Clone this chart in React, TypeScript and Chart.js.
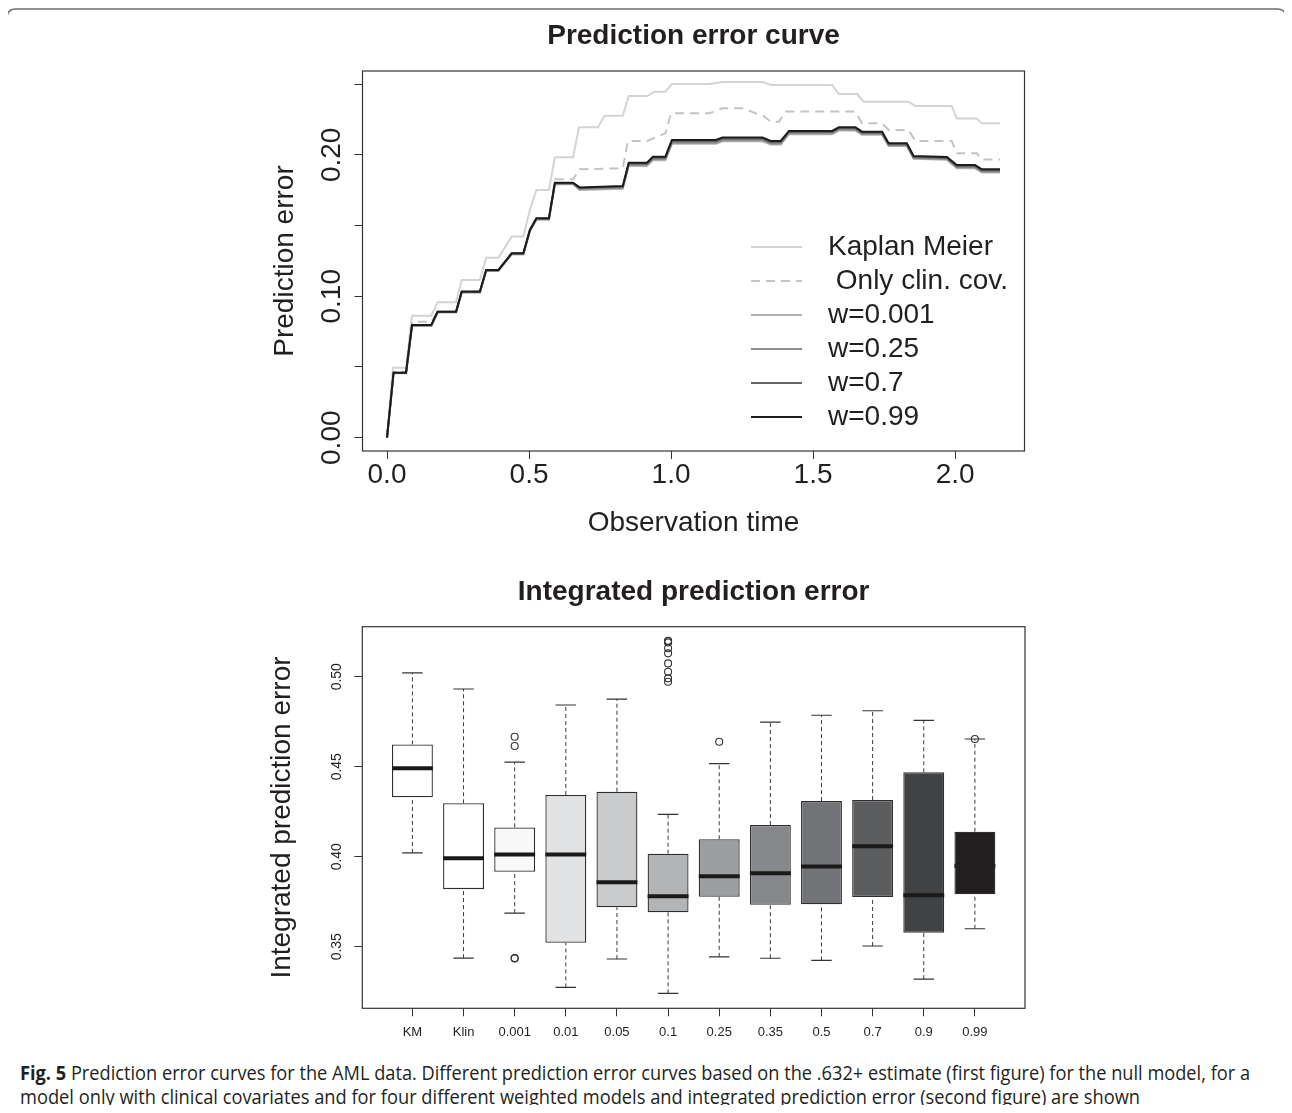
import React, { useEffect, useLayoutEffect, useRef } from 'react';
import { Chart, registerables } from 'chart.js';

Chart.register(...registerables);

const FONT = '"Liberation Sans", Arial, Helvetica, sans-serif';
const INK = '#231f20';

// ---------- Top chart: prediction error curves ----------
const seriesLabels = ['Kaplan Meier', ' Only clin. cov.', 'w=0.001', 'w=0.25', 'w=0.7', 'w=0.99'];

const kmTimes = [0, 0.021, 0.067, 0.088, 0.156, 0.178, 0.243, 0.263, 0.327, 0.349, 0.392, 0.439, 0.480, 0.503, 0.526, 0.570, 0.591, 0.655, 0.676, 0.743, 0.766, 0.830, 0.851, 0.915, 0.942, 0.980, 1.003, 1.135, 1.181, 1.322, 1.351, 1.567, 1.591, 1.655, 1.678, 1.836, 1.860, 1.988, 2.006, 2.076, 2.094, 2.158];
const kmValues = [0, 0.0495, 0.0495, 0.0863, 0.0863, 0.0957, 0.0957, 0.1115, 0.1115, 0.1273, 0.1273, 0.1422, 0.1422, 0.1610, 0.1752, 0.1752, 0.1983, 0.1983, 0.2195, 0.2195, 0.2277, 0.2277, 0.2416, 0.2416, 0.2447, 0.2447, 0.2501, 0.2501, 0.2516, 0.2516, 0.2494, 0.2494, 0.2430, 0.2430, 0.2376, 0.2376, 0.2346, 0.2346, 0.2258, 0.2258, 0.2223, 0.2223];

const clinTimes = [0, 0.023, 0.067, 0.088, 0.156, 0.178, 0.243, 0.263, 0.327, 0.349, 0.392, 0.439, 0.480, 0.503, 0.526, 0.570, 0.591, 0.655, 0.678, 0.830, 0.848, 0.915, 0.980, 1.000, 1.135, 1.181, 1.251, 1.298, 1.322, 1.351, 1.380, 1.403, 1.649, 1.672, 1.743, 1.766, 1.836, 1.860, 1.988, 2.006, 2.076, 2.094, 2.158];
const clinValues = [0, 0.0467, 0.0467, 0.0820, 0.0820, 0.0891, 0.0891, 0.1033, 0.1033, 0.1186, 0.1186, 0.1304, 0.1304, 0.1469, 0.1551, 0.1551, 0.1827, 0.1827, 0.1898, 0.1905, 0.2098, 0.2098, 0.2152, 0.2294, 0.2294, 0.2329, 0.2329, 0.2294, 0.2280, 0.2235, 0.2235, 0.2306, 0.2306, 0.2223, 0.2223, 0.2176, 0.2176, 0.2098, 0.2098, 0.2011, 0.2011, 0.1968, 0.1968];

const wTimes = [0, 0.023, 0.067, 0.088, 0.156, 0.178, 0.243, 0.263, 0.327, 0.349, 0.392, 0.439, 0.480, 0.503, 0.526, 0.570, 0.591, 0.655, 0.678, 0.830, 0.851, 0.915, 0.936, 0.980, 1.003, 1.158, 1.181, 1.322, 1.351, 1.386, 1.415, 1.567, 1.591, 1.649, 1.672, 1.743, 1.766, 1.830, 1.854, 1.971, 2.006, 2.070, 2.094, 2.158];
const w001Values = [0, 0.0456, 0.0456, 0.0791, 0.0791, 0.0886, 0.0886, 0.1027, 0.1027, 0.1179, 0.1179, 0.1296, 0.1296, 0.1460, 0.1542, 0.1542, 0.1792, 0.1792, 0.1752, 0.1760, 0.1922, 0.1922, 0.1962, 0.1962, 0.2078, 0.2078, 0.2096, 0.2096, 0.2074, 0.2074, 0.2146, 0.2146, 0.2172, 0.2172, 0.2142, 0.2142, 0.2062, 0.2062, 0.1972, 0.1965, 0.1906, 0.1906, 0.1876, 0.1876];
const w025Values = [0, 0.0458, 0.0458, 0.0793, 0.0793, 0.0888, 0.0888, 0.1029, 0.1029, 0.1181, 0.1181, 0.1299, 0.1299, 0.1464, 0.1546, 0.1546, 0.1796, 0.1796, 0.1758, 0.1767, 0.1930, 0.1930, 0.1970, 0.1970, 0.2086, 0.2086, 0.2104, 0.2104, 0.2081, 0.2081, 0.2153, 0.2153, 0.2180, 0.2180, 0.2149, 0.2149, 0.2068, 0.2068, 0.1978, 0.1971, 0.1912, 0.1912, 0.1882, 0.1882];
const w07Values = [0, 0.0460, 0.0460, 0.0795, 0.0795, 0.0890, 0.0890, 0.1031, 0.1031, 0.1184, 0.1184, 0.1302, 0.1302, 0.1467, 0.1549, 0.1549, 0.1800, 0.1800, 0.1765, 0.1774, 0.1938, 0.1938, 0.1979, 0.1979, 0.2097, 0.2097, 0.2114, 0.2114, 0.2090, 0.2090, 0.2162, 0.2162, 0.2188, 0.2188, 0.2157, 0.2157, 0.2075, 0.2075, 0.1985, 0.1978, 0.1920, 0.1920, 0.1890, 0.1890];
const w099Values = [0, 0.0460, 0.0460, 0.0797, 0.0797, 0.0891, 0.0891, 0.1033, 0.1033, 0.1186, 0.1186, 0.1304, 0.1304, 0.1469, 0.1551, 0.1551, 0.1803, 0.1803, 0.1770, 0.1780, 0.1945, 0.1945, 0.1987, 0.1987, 0.2105, 0.2105, 0.2122, 0.2122, 0.2098, 0.2098, 0.2169, 0.2169, 0.2195, 0.2195, 0.2164, 0.2164, 0.2082, 0.2082, 0.1992, 0.1985, 0.1928, 0.1928, 0.1898, 0.1898];

const xTickValues = [0, 0.5, 1, 1.5, 2];
const xTickLabels = ['0.0', '0.5', '1.0', '1.5', '2.0'];
const yTickValues = [0, 0.05, 0.1, 0.15, 0.2, 0.25];
const yTickLabels = ['0.00', '', '0.10', '', '0.20', ''];

// ---------- Bottom chart: integrated prediction error ----------
const boxCategories = ['KM', 'Klin', '0.001', '0.01', '0.05', '0.1', '0.25', '0.35', '0.5', '0.7', '0.9', '0.99'];
const whiskerLow = [0.4021, 0.3437, 0.3687, 0.3274, 0.3432, 0.3241, 0.3444, 0.3436, 0.3424, 0.3504, 0.3320, 0.3600];
const quartile1 = [0.4330, 0.3820, 0.3917, 0.3522, 0.3719, 0.3691, 0.3778, 0.3733, 0.3736, 0.3776, 0.3578, 0.3791];
const medians = [0.4491, 0.3991, 0.4013, 0.4013, 0.3858, 0.3780, 0.3891, 0.3908, 0.3946, 0.4058, 0.3786, 0.3950];
const quartile3 = [0.4624, 0.4297, 0.4163, 0.4343, 0.4361, 0.4017, 0.4097, 0.4176, 0.4309, 0.4315, 0.4469, 0.4139];
const whiskerHigh = [0.5022, 0.4932, 0.4526, 0.4843, 0.4876, 0.4235, 0.4517, 0.4748, 0.4786, 0.4811, 0.4758, 0.4654];
const outliers: number[][] = [
  [],
  [],
  [0.4667, 0.4615, 0.3437, 0.3435],
  [],
  [],
  [0.5200, 0.5197, 0.5190, 0.5158, 0.5130, 0.5074, 0.5028, 0.4991, 0.4972],
  [0.4639],
  [],
  [],
  [],
  [],
  [0.4654],
];
const boxFills = ['#ffffff', '#ffffff', '#f9f9f9', '#e1e2e3', '#c9cacc', '#b3b4b6', '#9d9ea0', '#87888b', '#727376', '#5c5d5f', '#414244', '#231f20'];
const medianColors = ['#1a1a1a', '#1a1a1a', '#1a1a1a', '#1a1a1a', '#1a1a1a', '#1a1a1a', '#1a1a1a', '#1a1a1a', '#1a1a1a', '#1a1a1a', '#1a1a1a', '#231f20'];
const boxYTicks = [0.35, 0.40, 0.45, 0.50];
const boxYLabels = ['0.35', '0.40', '0.45', '0.50'];

const BOX_HALF = 0.4;
const CAP_HALF = 0.2;

function toPoints(xs: number[], ys: number[]) {
  return xs.map((x, i) => ({ x, y: ys[i] }));
}

type RPlotOpts = {
  title: string;
  titleSize: number;
  titleGap: number;
  yTicks: number[];
  yLabels: string[];
  yLabelSize: number;
  yLabelGap: number;
  legend?: { top: number; step: number; lineStart: number; lineEnd: number; textStart: number; size: number };
};

function makeRPlot(o: RPlotOpts) {
  return {
    id: 'rPlot',
    afterDraw(chart: any) {
      const { ctx, chartArea: a, scales } = chart;
      ctx.save();
      ctx.strokeStyle = '#333';
      ctx.lineWidth = 1.2;
      ctx.setLineDash([]);
      ctx.strokeRect(a.left, a.top, a.right - a.left, a.bottom - a.top);

      ctx.fillStyle = INK;
      ctx.font = `bold ${o.titleSize}px ${FONT}`;
      ctx.textAlign = 'center';
      ctx.textBaseline = 'middle';
      ctx.fillText(o.title, (a.left + a.right) / 2, a.top - o.titleGap);

      ctx.font = `${o.yLabelSize}px ${FONT}`;
      o.yTicks.forEach((v, i) => {
        const label = o.yLabels[i];
        if (!label) return;
        const y = scales.y.getPixelForValue(v);
        ctx.save();
        ctx.translate(a.left - o.yLabelGap, y);
        ctx.rotate(-Math.PI / 2);
        ctx.fillText(label, 0, 0);
        ctx.restore();
      });

      if (o.legend) {
        const L = o.legend;
        chart.data.datasets.forEach((ds: any, i: number) => {
          const y = a.top + L.top + i * L.step;
          ctx.strokeStyle = ds.borderColor;
          ctx.lineWidth = ds.borderWidth;
          ctx.setLineDash(ds.borderDash || []);
          ctx.beginPath();
          ctx.moveTo(a.left + L.lineStart, y);
          ctx.lineTo(a.left + L.lineEnd, y);
          ctx.stroke();
          ctx.setLineDash([]);
          ctx.font = `${L.size}px ${FONT}`;
          ctx.textAlign = 'left';
          ctx.textBaseline = 'middle';
          ctx.fillStyle = INK;
          ctx.fillText(ds.label, a.left + L.textStart, y);
        });
      }
      ctx.restore();
    },
  };
}

function lineDs(label: string, data: any[], color: string, order: number, dash?: number[]) {
  return {
    label,
    data,
    borderColor: color,
    borderWidth: 2,
    borderDash: dash,
    pointRadius: 0,
    tension: 0,
    fill: false,
    order,
  };
}

function topConfig(): any {
  return {
    type: 'line',
    data: {
      datasets: [
        lineDs(seriesLabels[0], toPoints(kmTimes, kmValues), '#d4d4d4', 6),
        lineDs(seriesLabels[1], toPoints(clinTimes, clinValues), '#c4c4c4', 5, [9, 6]),
        lineDs(seriesLabels[2], toPoints(wTimes, w001Values), '#b2b2b2', 4),
        lineDs(seriesLabels[3], toPoints(wTimes, w025Values), '#8e8e8e', 3),
        lineDs(seriesLabels[4], toPoints(wTimes, w07Values), '#666666', 2),
        lineDs(seriesLabels[5], toPoints(wTimes, w099Values), '#1c1c1c', 1),
      ],
    },
    options: {
      animation: false,
      responsive: false,
      maintainAspectRatio: false,
      events: [],
      layout: { padding: { left: 0, top: 51, right: 25.5, bottom: 0 } },
      plugins: { legend: { display: false }, tooltip: { enabled: false }, title: { display: false } },
      scales: {
        x: {
          type: 'linear',
          min: -0.0863,
          max: 2.2443,
          offset: false,
          afterBuildTicks: (s: any) => { s.ticks = xTickValues.map((v) => ({ value: v })); },
          afterFit: (s: any) => { s.height = 109; },
          border: { display: false },
          grid: { display: true, drawOnChartArea: false, drawTicks: true, tickLength: 8, color: '#333', lineWidth: 1, offset: false },
          ticks: {
            autoSkip: false,
            maxRotation: 0,
            minRotation: 0,
            padding: -1,
            color: INK,
            font: { family: FONT, size: 28 },
            callback: (_v: any, i: number) => xTickLabels[i],
          },
          title: { display: true, text: 'Observation time', color: INK, font: { family: FONT, size: 28 }, padding: { top: 0, bottom: 20 } },
        },
        y: {
          type: 'linear',
          min: -0.0094,
          max: 0.2593,
          afterBuildTicks: (s: any) => { s.ticks = yTickValues.map((v) => ({ value: v })); },
          afterFit: (s: any) => { s.width = 112.5; },
          border: { display: false },
          grid: { display: true, drawOnChartArea: false, drawTicks: true, tickLength: 8, color: '#333', lineWidth: 1 },
          ticks: { display: false },
          title: { display: true, text: 'Prediction error', color: INK, font: { family: FONT, size: 28 }, padding: { top: 18, bottom: 0 } },
        },
      },
    },
    plugins: [
      makeRPlot({
        title: 'Prediction error curve',
        titleSize: 28,
        titleGap: 35,
        yTicks: yTickValues,
        yLabels: yTickLabels,
        yLabelSize: 28,
        yLabelGap: 30.5,
        legend: { top: 176, step: 34, lineStart: 388.5, lineEnd: 439.5, textStart: 465.5, size: 28 },
      }),
    ],
  };
}

function bottomConfig(): any {
  const whiskerPts: any[] = [];
  const capPts: any[] = [];
  const medianPts: any[] = [];
  boxCategories.forEach((_, i) => {
    const x = i + 1;
    whiskerPts.push({ x, y: quartile3[i] }, { x, y: whiskerHigh[i] }, { x, y: null });
    whiskerPts.push({ x, y: whiskerLow[i] }, { x, y: quartile1[i] }, { x, y: null });
    capPts.push({ x: x - CAP_HALF, y: whiskerHigh[i] }, { x: x + CAP_HALF, y: whiskerHigh[i] }, { x, y: null });
    capPts.push({ x: x - CAP_HALF, y: whiskerLow[i] }, { x: x + CAP_HALF, y: whiskerLow[i] }, { x: x + CAP_HALF, y: null });
    medianPts.push({ x: x - BOX_HALF, y: medians[i] }, { x: x + BOX_HALF, y: medians[i] }, { x: x + BOX_HALF, y: null });
  });
  const outlierPts = outliers.flatMap((arr, i) => arr.map((v) => ({ x: i + 1, y: v })));

  return {
    type: 'bar',
    data: {
      datasets: [
        {
          type: 'bar',
          label: 'boxes',
          data: boxCategories.map((_, i) => ({ x: i + 1, y: [quartile1[i], quartile3[i]] })),
          backgroundColor: boxFills,
          borderColor: '#2e2e2e',
          borderWidth: 1.3,
          borderSkipped: false,
          barPercentage: 1,
          categoryPercentage: 2 * BOX_HALF,
          grouped: false,
          order: 10,
        },
        { type: 'line', label: 'whiskers', data: whiskerPts, borderColor: '#3a3a3a', borderWidth: 1, borderDash: [4, 3], pointRadius: 0, spanGaps: false, order: 8 },
        { type: 'line', label: 'caps', data: capPts, borderColor: '#333', borderWidth: 1.2, pointRadius: 0, spanGaps: false, order: 7 },
        {
          type: 'line',
          label: 'medians',
          data: medianPts,
          borderColor: '#1a1a1a',
          borderWidth: 4,
          borderCapStyle: 'butt',
          pointRadius: 0,
          spanGaps: false,
          segment: { borderColor: (c: any) => medianColors[Math.floor(c.p0DataIndex / 3)] },
          order: 2,
        },
        { type: 'scatter', label: 'outliers', data: outlierPts, pointRadius: 3.5, pointStyle: 'circle', borderColor: '#333', borderWidth: 1.1, backgroundColor: 'rgba(0,0,0,0)', order: 1 },
      ],
    },
    options: {
      animation: false,
      responsive: false,
      maintainAspectRatio: false,
      events: [],
      layout: { padding: { left: 0, top: 61.7, right: 25, bottom: 0 } },
      plugins: { legend: { display: false }, tooltip: { enabled: false }, title: { display: false } },
      scales: {
        x: {
          type: 'linear',
          min: 0.02,
          max: 12.98,
          offset: false,
          afterBuildTicks: (s: any) => { s.ticks = boxCategories.map((_, i) => ({ value: i + 1 })); },
          afterFit: (s: any) => { s.height = 41.7; },
          border: { display: false },
          grid: { display: true, drawOnChartArea: false, drawTicks: true, tickLength: 8, color: '#333', lineWidth: 1, offset: false },
          ticks: {
            autoSkip: false,
            maxRotation: 0,
            minRotation: 0,
            padding: 8.4,
            color: INK,
            font: { family: FONT, size: 13 },
            callback: (_v: any, i: number) => boxCategories[i],
          },
        },
        y: {
          type: 'linear',
          min: 0.3158,
          max: 0.5278,
          beginAtZero: false,
          afterBuildTicks: (s: any) => { s.ticks = boxYTicks.map((v) => ({ value: v })); },
          afterFit: (s: any) => { s.width = 112.3; },
          border: { display: false },
          grid: { display: true, drawOnChartArea: false, drawTicks: true, tickLength: 8, color: '#333', lineWidth: 1 },
          ticks: { display: false },
          title: { display: true, text: 'Integrated prediction error', color: INK, font: { family: FONT, size: 28 }, padding: { top: 15.7, bottom: 0 } },
        },
      },
    },
    plugins: [
      makeRPlot({
        title: 'Integrated prediction error',
        titleSize: 28,
        titleGap: 34.7,
        yTicks: boxYTicks,
        yLabels: boxYLabels,
        yLabelSize: 14,
        yLabelGap: 25.6,
      }),
    ],
  };
}

function FitLine({ left, top, width, children }: { left: number; top: number; width: number; children: React.ReactNode }) {
  const ref = useRef<HTMLDivElement>(null);
  useLayoutEffect(() => {
    const el = ref.current;
    if (!el) return;
    el.style.transform = 'none';
    const w = el.getBoundingClientRect().width;
    if (w > 0) el.style.transform = `scaleX(${width / w})`;
  }, [width]);
  return (
    <div
      ref={ref}
      style={{
        position: 'absolute',
        left,
        top,
        whiteSpace: 'nowrap',
        transformOrigin: '0 0',
        fontFamily: '"Open Sans", "Noto Sans", sans-serif',
        fontSize: 19.5,
        lineHeight: '24px',
        color: INK,
      }}
    >
      {children}
    </div>
  );
}

const edge: React.CSSProperties = { position: 'absolute', background: '#6d6e71' };

export default function App() {
  const topRef = useRef<HTMLCanvasElement>(null);
  const botRef = useRef<HTMLCanvasElement>(null);

  useEffect(() => {
    const c1 = new Chart(topRef.current as HTMLCanvasElement, topConfig());
    const c2 = new Chart(botRef.current as HTMLCanvasElement, bottomConfig());
    return () => {
      c1.destroy();
      c2.destroy();
    };
  }, []);

  return (
    <div style={{ position: 'relative', margin: -8, width: 1292, height: 1113, overflow: 'hidden', background: '#fff' }}>
      <svg width={1292} height={40} style={{ position: 'absolute', left: 0, top: 0 }}>
        <path d="M 7 40 L 7 18 Q 7 9 16 9 L 1277 9 Q 1286 9 1286 18 L 1286 40" fill="none" stroke="#6d6e71" strokeWidth={1.6} />
      </svg>
      <div style={{ ...edge, left: 6, top: 38, width: 2, height: 1100 }} />
      <div style={{ ...edge, left: 1285, top: 38, width: 2, height: 1100 }} />
      <canvas ref={topRef} width={800} height={540} style={{ position: 'absolute', left: 250, top: 20, width: 800, height: 540 }} />
      <canvas ref={botRef} width={800} height={485} style={{ position: 'absolute', left: 250, top: 565, width: 800, height: 485 }} />
      <FitLine left={20} top={1061} width={1230}>
        <b>Fig. 5</b> Prediction error curves for the AML data. Different prediction error curves based on the .632+ estimate (first figure) for the null model, for a
      </FitLine>
      <FitLine left={20} top={1085} width={1120}>
        model only with clinical covariates and for four different weighted models and integrated prediction error (second figure) are shown
      </FitLine>
    </div>
  );
}
